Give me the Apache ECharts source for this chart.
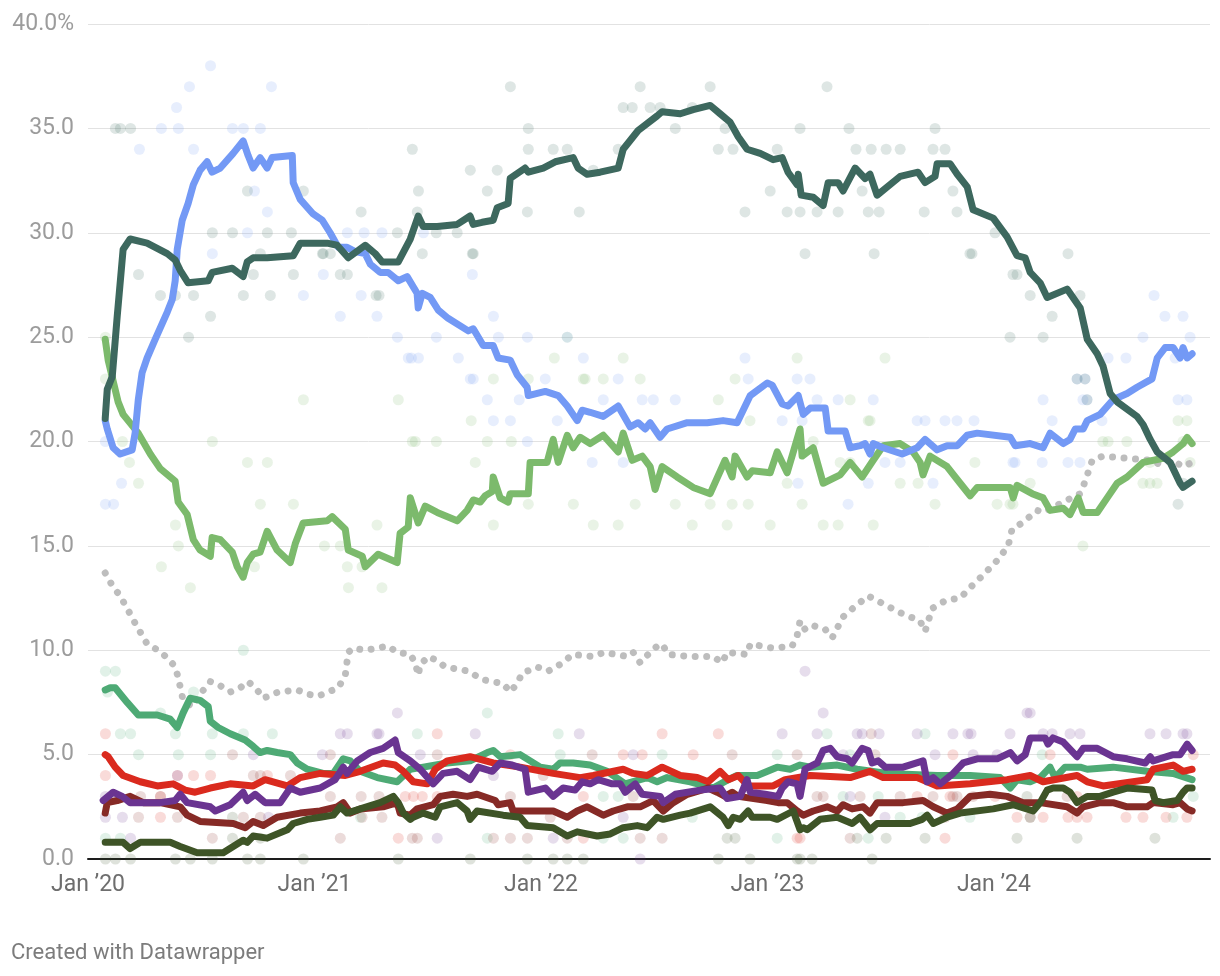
<!DOCTYPE html>
<html>
<head>
<meta charset="utf-8">
<script src="https://cdn.jsdelivr.net/npm/echarts@6/dist/echarts.min.js"></script>
<style>
html,body{margin:0;padding:0;background:#fff;}
#chart{width:1220px;height:976px;}
</style>
</head>
<body>
<div id="chart"></div>
<script>
// ---- tick labels ----
const xTickYears = [2020, 2021, 2022, 2023, 2024];
const yTicks = [0, 5, 10, 15, 20, 25, 30, 35, 40];

// ---- trend lines: [decimal year, percent] ----
const teal = [[2020.076,21.1],[2020.085,22.5],[2020.107,23.1],[2020.129,26.0],[2020.155,29.2],[2020.186,29.7],[2020.261,29.5],[2020.350,29.0],[2020.385,28.7],[2020.407,28.2],[2020.442,27.6],[2020.531,27.7],[2020.548,28.1],[2020.637,28.3],[2020.685,27.9],[2020.703,28.6],[2020.729,28.8],[2020.791,28.8],[2020.906,28.9],[2020.937,29.5],[2021.056,29.5],[2021.100,29.4],[2021.149,28.8],[2021.224,29.4],[2021.268,29.0],[2021.299,28.6],[2021.370,28.6],[2021.423,29.7],[2021.458,30.8],[2021.480,30.3],[2021.542,30.3],[2021.630,30.4],[2021.687,30.8],[2021.701,30.4],[2021.740,30.5],[2021.789,30.6],[2021.807,31.2],[2021.855,31.4],[2021.864,32.6],[2021.930,33.1],[2021.944,32.9],[2022.010,33.1],[2022.063,33.4],[2022.142,33.6],[2022.164,33.1],[2022.204,32.8],[2022.261,32.9],[2022.341,33.1],[2022.363,34.0],[2022.429,34.9],[2022.513,35.6],[2022.535,35.8],[2022.615,35.7],[2022.672,35.9],[2022.747,36.1],[2022.791,35.7],[2022.835,35.3],[2022.871,34.6],[2022.910,34.0],[2022.968,33.8],[2023.025,33.5],[2023.065,33.6],[2023.091,32.9],[2023.131,32.3],[2023.136,32.8],[2023.149,31.8],[2023.202,31.7],[2023.246,31.3],[2023.268,32.4],[2023.312,32.4],[2023.334,32.0],[2023.387,33.1],[2023.431,32.6],[2023.453,32.8],[2023.484,31.8],[2023.586,32.7],[2023.665,32.9],[2023.696,32.4],[2023.740,32.7],[2023.749,33.3],[2023.807,33.3],[2023.838,32.8],[2023.882,32.2],[2023.908,31.1],[2023.997,30.7],[2024.058,29.8],[2024.102,28.9],[2024.138,28.8],[2024.160,28.1],[2024.204,27.6],[2024.235,26.9],[2024.323,27.3],[2024.381,26.4],[2024.412,24.9],[2024.456,24.2],[2024.482,23.6],[2024.513,22.3],[2024.544,21.9],[2024.632,21.2],[2024.659,20.8],[2024.690,20.1],[2024.721,19.5],[2024.778,19.0],[2024.822,18.0],[2024.835,17.8],[2024.875,18.1]];

const blue = [[2020.076,21.0],[2020.085,20.6],[2020.111,19.7],[2020.142,19.4],[2020.195,19.6],[2020.208,20.4],[2020.222,22.0],[2020.239,23.3],[2020.261,24.0],[2020.297,24.9],[2020.350,26.2],[2020.372,26.8],[2020.385,27.7],[2020.394,29.2],[2020.416,30.6],[2020.442,31.4],[2020.465,32.3],[2020.495,33.0],[2020.526,33.4],[2020.548,32.9],[2020.584,33.1],[2020.641,33.8],[2020.685,34.4],[2020.707,33.7],[2020.729,33.1],[2020.760,33.6],[2020.791,33.1],[2020.813,33.6],[2020.902,33.7],[2020.906,32.4],[2020.937,31.6],[2020.994,30.9],[2021.034,30.6],[2021.069,30.0],[2021.105,29.3],[2021.144,29.3],[2021.180,29.1],[2021.224,29.0],[2021.246,28.5],[2021.290,28.1],[2021.325,28.1],[2021.370,27.7],[2021.409,27.9],[2021.453,27.1],[2021.458,26.4],[2021.476,27.1],[2021.511,26.9],[2021.546,26.3],[2021.590,25.9],[2021.679,25.3],[2021.701,25.4],[2021.745,24.6],[2021.789,24.6],[2021.811,24.0],[2021.864,23.9],[2021.895,23.2],[2021.939,22.6],[2021.944,22.2],[2022.019,22.4],[2022.076,22.2],[2022.116,21.7],[2022.160,21.0],[2022.182,21.5],[2022.217,21.4],[2022.275,21.2],[2022.341,21.7],[2022.394,20.7],[2022.429,20.9],[2022.460,20.6],[2022.482,20.9],[2022.526,20.2],[2022.557,20.6],[2022.646,20.9],[2022.734,20.9],[2022.804,21.0],[2022.866,20.9],[2022.924,22.2],[2022.999,22.8],[2023.021,22.7],[2023.065,21.8],[2023.091,21.7],[2023.136,22.2],[2023.158,21.3],[2023.189,21.6],[2023.255,21.6],[2023.268,20.5],[2023.343,20.5],[2023.365,19.7],[2023.409,19.8],[2023.431,19.9],[2023.453,19.4],[2023.467,19.9],[2023.511,19.7],[2023.595,19.4],[2023.661,19.7],[2023.696,20.1],[2023.749,19.6],[2023.793,19.8],[2023.838,19.8],[2023.882,20.3],[2023.926,20.4],[2024.072,20.2],[2024.094,19.8],[2024.160,19.9],[2024.217,19.7],[2024.248,20.4],[2024.306,19.9],[2024.336,20.1],[2024.359,20.6],[2024.394,20.6],[2024.412,21.0],[2024.469,21.3],[2024.526,22.0],[2024.588,22.3],[2024.632,22.6],[2024.698,23.0],[2024.721,24.0],[2024.756,24.5],[2024.791,24.5],[2024.822,24.0],[2024.835,24.5],[2024.853,24.0],[2024.875,24.2]];

const lightGreen = [[2020.076,24.9],[2020.089,23.9],[2020.111,22.9],[2020.133,21.9],[2020.155,21.3],[2020.222,20.4],[2020.275,19.4],[2020.319,18.7],[2020.385,18.1],[2020.398,17.1],[2020.438,16.5],[2020.465,15.3],[2020.495,14.8],[2020.540,14.5],[2020.548,15.4],[2020.584,15.3],[2020.637,14.7],[2020.659,14.0],[2020.685,13.5],[2020.703,14.2],[2020.729,14.6],[2020.760,14.7],[2020.791,15.7],[2020.835,14.8],[2020.893,14.2],[2020.915,15.1],[2020.950,16.1],[2021.056,16.2],[2021.078,16.4],[2021.136,15.8],[2021.149,14.8],[2021.211,14.5],[2021.224,14.0],[2021.281,14.6],[2021.365,14.2],[2021.378,15.6],[2021.414,15.9],[2021.423,17.3],[2021.458,16.1],[2021.489,16.9],[2021.542,16.6],[2021.630,16.2],[2021.674,16.7],[2021.701,17.2],[2021.732,17.1],[2021.754,17.4],[2021.785,17.6],[2021.789,18.3],[2021.820,17.3],[2021.855,17.1],[2021.864,17.5],[2021.944,17.5],[2021.952,19.0],[2022.027,19.0],[2022.054,20.1],[2022.076,19.0],[2022.116,20.3],[2022.142,19.7],[2022.173,20.2],[2022.217,19.9],[2022.275,20.3],[2022.341,19.5],[2022.363,20.4],[2022.403,19.1],[2022.447,19.3],[2022.482,18.8],[2022.504,17.7],[2022.535,18.8],[2022.601,18.3],[2022.672,17.8],[2022.747,17.5],[2022.813,19.1],[2022.844,18.3],[2022.857,19.3],[2022.910,18.3],[2022.933,18.6],[2023.012,18.5],[2023.043,19.5],[2023.087,18.5],[2023.144,20.6],[2023.153,19.3],[2023.202,19.7],[2023.246,18.0],[2023.321,18.4],[2023.365,19.0],[2023.418,18.3],[2023.467,19.1],[2023.511,19.8],[2023.586,19.9],[2023.643,19.5],[2023.674,19.0],[2023.687,18.4],[2023.718,19.3],[2023.793,18.8],[2023.851,18.0],[2023.895,17.4],[2023.926,17.8],[2024.072,17.8],[2024.085,17.3],[2024.102,17.9],[2024.169,17.5],[2024.217,17.3],[2024.248,16.7],[2024.306,16.8],[2024.336,16.5],[2024.372,17.3],[2024.394,16.6],[2024.456,16.6],[2024.500,17.3],[2024.544,18.0],[2024.588,18.3],[2024.659,19.0],[2024.747,19.2],[2024.791,19.5],[2024.835,19.9],[2024.853,20.2],[2024.875,19.9]];

const grayTrend = [[2020.076,13.7],[2020.107,13.1],[2020.142,12.6],[2020.178,11.9],[2020.213,11.2],[2020.261,10.3],[2020.310,10.0],[2020.354,9.6],[2020.385,9.2],[2020.398,8.7],[2020.420,7.6],[2020.460,7.3],[2020.495,7.9],[2020.540,8.5],[2020.584,8.3],[2020.628,8.0],[2020.672,8.2],[2020.707,8.5],[2020.747,8.1],[2020.774,7.7],[2020.840,8.0],[2020.924,8.1],[2020.968,7.9],[2021.016,7.8],[2021.061,8.0],[2021.105,8.2],[2021.136,8.8],[2021.149,9.9],[2021.171,10.1],[2021.224,10.0],[2021.277,10.1],[2021.325,10.2],[2021.365,9.9],[2021.423,9.8],[2021.445,9.4],[2021.458,8.8],[2021.467,9.3],[2021.502,9.7],[2021.542,9.5],[2021.577,9.2],[2021.630,9.1],[2021.679,9.0],[2021.740,8.6],[2021.785,8.5],[2021.833,8.4],[2021.864,8.0],[2021.895,8.4],[2021.917,8.9],[2021.983,9.2],[2022.032,9.0],[2022.063,9.2],[2022.098,9.4],[2022.138,9.8],[2022.231,9.7],[2022.279,9.9],[2022.381,9.7],[2022.407,9.9],[2022.438,9.4],[2022.473,9.8],[2022.513,10.2],[2022.535,10.3],[2022.562,9.8],[2022.659,9.7],[2022.760,9.7],[2022.800,9.4],[2022.822,9.9],[2022.910,9.8],[2022.924,10.3],[2023.025,10.1],[2023.109,10.2],[2023.131,10.7],[2023.144,11.4],[2023.166,11.0],[2023.197,11.2],[2023.255,11.0],[2023.286,10.6],[2023.334,11.6],[2023.387,12.1],[2023.445,12.6],[2023.498,12.3],[2023.586,11.8],[2023.674,11.4],[2023.696,10.9],[2023.727,12.0],[2023.789,12.4],[2023.851,12.5],[2023.895,13.0],[2023.952,13.6],[2024.014,14.3],[2024.063,15.0],[2024.080,15.8],[2024.125,16.1],[2024.191,16.7],[2024.217,16.6],[2024.306,17.1],[2024.381,17.5],[2024.403,18.1],[2024.434,19.1],[2024.482,19.3],[2024.588,19.2],[2024.690,19.1],[2024.734,18.9],[2024.786,19.1],[2024.835,18.8],[2024.875,19.0]];

const midGreen = [[2020.076,8.1],[2020.098,8.2],[2020.120,8.2],[2020.173,7.5],[2020.222,6.9],[2020.306,6.9],[2020.363,6.7],[2020.394,6.3],[2020.420,7.0],[2020.451,7.7],[2020.495,7.6],[2020.531,7.3],[2020.540,6.6],[2020.575,6.3],[2020.628,6.0],[2020.694,5.7],[2020.729,5.4],[2020.760,5.1],[2020.791,5.2],[2020.835,5.1],[2020.893,5.0],[2020.924,4.6],[2020.968,4.3],[2021.038,4.1],[2021.083,4.1],[2021.127,4.8],[2021.158,4.7],[2021.202,4.2],[2021.277,3.9],[2021.365,3.7],[2021.423,4.3],[2021.480,4.4],[2021.586,4.6],[2021.687,4.7],[2021.763,5.1],[2021.789,5.2],[2021.820,4.9],[2021.908,5.0],[2021.997,4.4],[2022.054,4.3],[2022.085,4.6],[2022.142,4.6],[2022.217,4.5],[2022.292,4.2],[2022.372,3.6],[2022.469,3.9],[2022.513,3.7],[2022.557,3.9],[2022.659,3.7],[2022.760,3.4],[2022.827,3.8],[2022.866,4.0],[2022.955,4.0],[2023.043,4.4],[2023.100,4.3],[2023.144,4.5],[2023.189,4.4],[2023.308,4.5],[2023.396,4.3],[2023.529,4.1],[2023.749,4.0],[2023.895,4.0],[2024.027,3.9],[2024.072,3.4],[2024.102,3.8],[2024.160,3.7],[2024.204,3.9],[2024.248,4.4],[2024.270,3.9],[2024.314,4.4],[2024.381,4.4],[2024.412,4.3],[2024.526,4.4],[2024.676,4.2],[2024.791,4.1],[2024.875,3.8]];

const red = [[2020.076,5.0],[2020.089,4.9],[2020.120,4.4],[2020.155,4.0],[2020.231,3.7],[2020.306,3.5],[2020.376,3.6],[2020.429,3.3],[2020.473,3.2],[2020.540,3.4],[2020.628,3.6],[2020.729,3.5],[2020.782,3.8],[2020.880,3.5],[2020.937,3.9],[2021.025,4.1],[2021.136,4.0],[2021.202,4.2],[2021.303,4.6],[2021.356,4.5],[2021.392,4.2],[2021.436,3.7],[2021.498,3.6],[2021.533,4.3],[2021.586,4.7],[2021.687,4.9],[2021.789,4.6],[2021.908,4.4],[2022.054,4.1],[2022.173,3.9],[2022.231,4.0],[2022.363,4.3],[2022.407,4.1],[2022.469,4.0],[2022.535,4.4],[2022.615,4.0],[2022.690,3.9],[2022.738,3.7],[2022.791,4.2],[2022.827,3.8],[2022.871,4.0],[2022.915,3.5],[2023.025,3.5],[2023.078,3.8],[2023.189,4.0],[2023.365,3.9],[2023.453,4.2],[2023.511,3.9],[2023.661,3.9],[2023.749,3.5],[2023.895,3.6],[2024.058,3.8],[2024.160,4.0],[2024.217,3.7],[2024.367,4.0],[2024.412,3.7],[2024.482,3.5],[2024.676,3.8],[2024.703,4.3],[2024.791,4.5],[2024.835,4.2],[2024.875,4.3]];

const purple = [[2020.067,2.8],[2020.111,3.2],[2020.151,3.0],[2020.186,2.7],[2020.261,2.7],[2020.319,2.7],[2020.385,2.8],[2020.407,3.1],[2020.438,2.7],[2020.540,2.5],[2020.562,2.3],[2020.628,2.6],[2020.685,3.2],[2020.703,2.8],[2020.738,3.1],[2020.782,2.7],[2020.849,2.7],[2020.893,3.4],[2020.937,3.2],[2021.025,3.4],[2021.091,3.8],[2021.127,4.4],[2021.144,4.1],[2021.189,4.7],[2021.246,5.1],[2021.303,5.3],[2021.356,5.7],[2021.370,5.1],[2021.423,4.7],[2021.467,4.3],[2021.524,3.6],[2021.568,4.1],[2021.630,4.2],[2021.687,3.8],[2021.723,4.4],[2021.785,4.2],[2021.820,4.6],[2021.873,4.5],[2021.930,4.3],[2021.944,3.2],[2022.019,3.4],[2022.054,3.0],[2022.098,3.4],[2022.151,3.3],[2022.182,3.7],[2022.217,3.6],[2022.253,3.8],[2022.314,3.6],[2022.350,3.6],[2022.372,3.2],[2022.416,3.6],[2022.447,3.1],[2022.526,3.0],[2022.540,2.7],[2022.593,3.1],[2022.703,3.3],[2022.791,3.4],[2022.822,2.9],[2022.880,3.0],[2022.910,3.8],[2022.924,3.2],[2022.990,3.1],[2023.047,3.0],[2023.065,3.4],[2023.091,3.7],[2023.131,3.6],[2023.144,3.0],[2023.166,4.3],[2023.220,4.6],[2023.246,5.2],[2023.277,5.3],[2023.308,4.9],[2023.352,4.8],[2023.374,4.6],[2023.418,5.3],[2023.445,5.2],[2023.462,4.6],[2023.489,4.7],[2023.520,4.4],[2023.599,4.4],[2023.687,4.7],[2023.705,3.7],[2023.732,3.9],[2023.763,3.6],[2023.820,4.1],[2023.864,4.6],[2023.926,4.8],[2024.014,4.8],[2024.072,5.1],[2024.102,4.7],[2024.138,5.0],[2024.160,5.8],[2024.226,5.8],[2024.239,5.5],[2024.261,5.8],[2024.306,5.6],[2024.367,4.9],[2024.394,5.3],[2024.456,5.3],[2024.526,4.9],[2024.588,4.8],[2024.668,4.6],[2024.690,4.9],[2024.703,4.7],[2024.791,5.0],[2024.822,5.0],[2024.853,5.5],[2024.875,5.2]];

const darkRed = [[2020.076,2.2],[2020.085,2.7],[2020.129,2.8],[2020.186,3.0],[2020.244,2.7],[2020.319,2.7],[2020.407,2.5],[2020.438,2.1],[2020.495,1.8],[2020.641,1.7],[2020.694,1.5],[2020.729,1.8],[2020.774,1.6],[2020.835,2.0],[2020.937,2.2],[2021.025,2.3],[2021.100,2.5],[2021.127,2.7],[2021.158,2.2],[2021.202,2.4],[2021.303,2.5],[2021.365,2.7],[2021.378,2.2],[2021.423,2.1],[2021.453,2.4],[2021.524,2.6],[2021.555,3.0],[2021.612,3.1],[2021.674,3.0],[2021.718,3.1],[2021.798,2.8],[2021.811,2.6],[2021.864,2.7],[2021.877,2.3],[2021.997,2.3],[2022.054,2.3],[2022.116,2.0],[2022.160,2.3],[2022.204,2.5],[2022.275,2.1],[2022.319,2.3],[2022.381,2.5],[2022.438,2.5],[2022.495,2.8],[2022.540,2.3],[2022.584,2.7],[2022.646,3.1],[2022.738,3.4],[2022.778,3.2],[2022.813,3.0],[2022.844,3.2],[2022.871,3.0],[2022.999,2.8],[2023.047,2.7],[2023.087,2.7],[2023.131,2.3],[2023.158,2.1],[2023.202,2.3],[2023.264,2.5],[2023.308,2.3],[2023.334,2.6],[2023.374,2.4],[2023.423,2.5],[2023.453,2.2],[2023.484,2.7],[2023.599,2.7],[2023.687,2.8],[2023.732,2.5],[2023.793,2.2],[2023.838,2.4],[2023.895,3.0],[2023.983,3.1],[2024.058,3.0],[2024.129,2.7],[2024.204,2.7],[2024.323,2.5],[2024.367,2.2],[2024.394,2.5],[2024.469,2.7],[2024.526,2.7],[2024.588,2.5],[2024.676,2.5],[2024.703,2.7],[2024.791,2.6],[2024.822,2.7],[2024.853,2.4],[2024.875,2.3]];

const olive = [[2020.076,0.8],[2020.111,0.8],[2020.155,0.8],[2020.186,0.5],[2020.231,0.8],[2020.363,0.8],[2020.407,0.6],[2020.482,0.3],[2020.540,0.3],[2020.597,0.3],[2020.641,0.6],[2020.685,0.9],[2020.703,0.8],[2020.729,1.1],[2020.791,1.0],[2020.880,1.4],[2020.906,1.7],[2020.968,1.9],[2021.025,2.0],[2021.083,2.1],[2021.114,2.5],[2021.144,2.2],[2021.202,2.4],[2021.290,2.7],[2021.348,3.0],[2021.370,2.7],[2021.392,2.2],[2021.423,1.9],[2021.436,2.0],[2021.480,2.2],[2021.533,2.0],[2021.555,2.5],[2021.630,2.7],[2021.674,2.3],[2021.687,1.9],[2021.718,2.3],[2021.833,2.1],[2021.908,2.0],[2021.939,1.6],[2022.054,1.5],[2022.116,1.1],[2022.160,1.3],[2022.248,1.1],[2022.306,1.2],[2022.363,1.5],[2022.425,1.6],[2022.469,1.5],[2022.513,2.0],[2022.540,1.9],[2022.615,2.1],[2022.659,2.2],[2022.747,2.5],[2022.804,2.0],[2022.827,1.6],[2022.849,2.0],[2022.880,1.9],[2022.915,2.3],[2022.933,2.0],[2023.012,2.0],[2023.043,1.9],[2023.114,2.3],[2023.144,1.4],[2023.158,1.5],[2023.175,1.4],[2023.233,1.9],[2023.308,2.0],[2023.374,1.7],[2023.409,2.0],[2023.453,1.4],[2023.484,1.7],[2023.630,1.7],[2023.683,1.9],[2023.705,2.1],[2023.732,1.7],[2023.793,2.0],[2023.851,2.2],[2023.997,2.4],[2024.085,2.6],[2024.173,2.3],[2024.204,2.7],[2024.235,3.3],[2024.261,3.4],[2024.306,3.4],[2024.336,3.2],[2024.367,2.7],[2024.412,3.0],[2024.469,3.0],[2024.526,3.2],[2024.588,3.4],[2024.698,3.3],[2024.712,2.8],[2024.747,2.7],[2024.809,2.8],[2024.835,3.2],[2024.853,3.4],[2024.875,3.4]];

// ---- individual polls: [percent, [decimal years]] ----
const pollsTeal = [[37,[2021.865,2022.438,2022.747,2023.263]],[36,[2022.363,2022.403,2022.482,2022.526,2022.668]],[35,[2020.121,2020.143,2020.188,2021.944,2022.593,2022.813,2023.144,2023.360,2023.740]],[34,[2021.432,2021.944,2022.054,2022.116,2022.341,2022.783,2022.848,2023.043,2023.391,2023.458,2023.524,2023.586,2023.731,2023.784]],[33,[2021.688,2021.807,2022.231]],[32,[2020.704,2020.951,2021.459,2021.763,2023.012,2023.418,2023.819]],[31,[2021.206,2021.454,2021.940,2022.169,2022.901,2023.087,2023.144,2023.219,2023.312,2023.445,2023.493,2023.692,2023.837]],[30,[2020.549,2020.638,2020.792,2020.898,2021.366,2021.538,2021.630,2024.005]],[29,[2020.761,2021.035,2021.039,2021.070,2021.476,2021.697,2021.701,2023.166,2023.471,2023.894,2023.903,2024.327]],[28,[2020.223,2020.730,2020.907,2021.114,2021.145,2024.084,2024.102]],[27,[2020.320,2020.386,2020.466,2020.686,2020.805,2021.272,2021.285,2024.160,2024.380]],[26,[2020.541,2024.257]],[25,[2020.444,2024.071,2024.217]],[23,[2024.367,2024.402]],[22,[2024.411]],[18,[2024.835]],[17,[2024.813]]];

const pollsBlue = [[38,[2020.541]],[37,[2020.448,2020.810]],[36,[2020.391]],[35,[2020.324,2020.399,2020.638,2020.686,2020.761]],[34,[2020.227,2020.466]],[32,[2020.735]],[31,[2020.792]],[30,[2020.704,2021.145,2021.219,2021.298,2021.481]],[29,[2020.549]],[28,[2021.039,2021.697]],[27,[2020.951,2021.206,2024.707]],[26,[2021.114,2021.276,2021.790,2024.755,2024.835]],[25,[2021.366,2021.538,2021.812,2021.940,2022.116,2024.658,2024.866]],[24,[2021.414,2021.428,2021.459,2021.635,2022.187,2022.901,2024.504,2024.583,2024.800]],[23,[2021.688,2021.701,2022.019,2022.341,2022.915,2023.131,2023.188,2024.367,2024.402]],[22,[2021.763,2021.904,2022.275,2022.447,2022.496,2022.593,2023.219,2023.312,2023.467,2024.217,2024.393,2024.411,2024.813,2024.852]],[21,[2021.790,2021.865,2022.072,2023.065,2023.153,2023.661,2023.696,2023.784,2023.837,2023.912,2024.257,2024.477]],[20,[2020.077,2021.940]],[19,[2022.226,2022.363,2023.519,2023.586,2024.084,2024.093,2024.213,2024.327,2024.380]],[18,[2020.148,2023.135,2023.445,2023.731]],[17,[2020.077,2020.113,2023.356]]];

const pollsLightGreen = [[25,[2020.077,2022.116]],[24,[2022.059,2022.363,2023.131,2023.519]],[23,[2020.077,2021.790,2021.944,2022.187,2022.195,2022.275,2022.438,2022.857]],[22,[2020.951,2021.370,2022.783,2023.365]],[21,[2021.692,2022.923,2023.445,2023.453,2024.813,2024.852]],[20,[2020.152,2020.549,2021.432,2021.445,2021.538,2021.763,2021.869,2023.202,2024.481,2024.504,2024.587,2024.835]],[19,[2020.183,2020.704,2020.792,2021.710,2023.321,2023.365,2023.916,2024.689,2024.866]],[18,[2020.223,2023.087,2023.586,2023.665,2024.160,2024.658,2024.689,2024.720]],[17,[2020.761,2020.907,2021.944,2022.143,2022.416,2022.593,2022.747,2022.844,2022.915,2023.153,2023.740,2024.014,2024.071,2024.084]],[16,[2020.386,2021.276,2021.790,2022.231,2022.341,2022.668,2022.822,2023.012,2023.246,2023.312,2023.467]],[15,[2020.399,2021.044,2021.114,2024.393]],[14,[2020.324,2020.735,2021.145,2021.210]],[13,[2020.452,2021.150,2021.298]]];

const pollsMidGreen = [[10,[2020.686]],[9,[2020.077,2020.121]],[8,[2020.086,2020.466]],[7,[2020.320,2021.763]],[6,[2020.143,2020.188,2020.386,2020.549,2020.686,2020.814,2021.454,2022.076,2023.263,2023.696]],[5,[2020.223,2020.399,2020.541,2022.085,2022.535,2023.043,2023.365,2024.213]],[3,[2022.275,2022.341,2023.334,2023.489,2024.880]],[2,[2021.203,2022.668,2023.586,2023.683,2023.894,2024.791]],[1,[2020.077,2020.143,2021.763,2022.275,2022.363,2023.043,2023.445]]];

const pollsRed = [[6,[2020.077,2021.542,2022.535,2022.783]],[5,[2021.865,2022.363,2022.447,2022.672,2023.819,2024.248,2024.880]],[4,[2020.077,2020.395,2020.466,2020.541,2020.792]],[3,[2020.320,2021.401,2021.437,2021.476,2021.542,2022.187,2023.661,2023.806,2024.005,2024.367]],[2,[2020.320,2024.102,2024.217,2024.327,2024.367,2024.411,2024.583,2024.658,2024.760,2024.852]],[1,[2021.370,2022.187,2023.131,2023.144,2023.784]]];

const pollsPurple = [[9,[2023.166]],[7,[2021.366,2023.246,2024.146,2024.160]],[6,[2021.114,2021.145,2021.276,2021.285,2021.710,2022.169,2023.065,2023.219,2023.396,2023.418,2023.493,2023.661,2023.819,2023.885,2023.899,2024.071,2024.217,2024.257,2024.336,2024.380,2024.689,2024.760,2024.835,2024.852]],[5,[2020.730,2021.035,2021.467,2022.407,2023.334,2023.740,2023.908,2024.014]],[4,[2020.395,2021.790]],[3,[2020.077,2020.121,2023.365]],[2,[2020.077,2020.152,2020.797,2022.363,2023.519]],[1,[2020.188,2021.542,2022.054]],[0,[2022.438]]];

const pollsDarkRed = [[6,[2023.458]],[5,[2020.638,2021.070,2021.542,2022.226,2022.844,2023.131,2023.475]],[4,[2020.730,2020.761,2020.894,2022.010]],[3,[2020.232,2020.320,2021.070,2021.206,2021.285,2021.865,2022.407,2023.219,2023.246,2023.409,2023.586,2023.731,2023.819,2023.837,2023.908,2024.323]],[2,[2020.223,2020.395,2020.686,2020.761,2021.210,2021.298,2022.041,2023.784,2024.160]],[1,[2020.549,2021.114,2021.432,2021.454,2021.790,2021.865,2021.940,2022.116,2022.438,2022.535,2023.365]]];

const pollsOlive = [[3,[2024.146]],[2,[2020.638,2024.160]],[1,[2020.638,2020.761,2022.822,2022.857,2023.396,2023.524,2023.696,2024.102,2024.367,2024.711]],[0,[2020.077,2020.121,2020.188,2020.386,2020.452,2020.549,2020.704,2020.761,2020.951,2021.370,2021.688,2021.940,2022.054,2022.116,2022.187,2022.783,2022.923,2023.131,2023.144,2023.197,2023.462]]];

// ---- chart ----
const toPoints = polls => polls.flatMap(([v, ys]) => ys.map(y => [y, v]));

const parties = [
  { line: grayTrend, polls: [], color: '#bdbdbd', dotted: true },
  { line: midGreen, polls: pollsMidGreen, color: '#4eaa75' },
  { line: red, polls: pollsRed, color: '#da2a1e' },
  { line: darkRed, polls: pollsDarkRed, color: '#862a26' },
  { line: olive, polls: pollsOlive, color: '#3e5427' },
  { line: purple, polls: pollsPurple, color: '#6a3491' },
  { line: lightGreen, polls: pollsLightGreen, color: '#7cba6c' },
  { line: blue, polls: pollsBlue, color: '#7399f5' },
  { line: teal, polls: pollsTeal, color: '#3d685e' }
];

const series = [];
parties.forEach(p => {
  if (p.polls.length) {
    series.push({
      type: 'scatter', data: toPoints(p.polls), symbolSize: 11, clip: false, silent: true,
      itemStyle: { color: p.color, opacity: 0.17 }, z: 1
    });
  }
});
parties.forEach((p, i) => {
  series.push({
    type: 'line', data: p.line, showSymbol: false, clip: false, silent: true, z: 2 + i,
    lineStyle: p.dotted
      ? { color: p.color, width: 7, type: [0.01, 11.5], cap: 'round', join: 'round' }
      : { color: p.color, width: 7, cap: 'round', join: 'round' }
  });
});

const chart = echarts.init(document.getElementById('chart'), null, { renderer: 'canvas' });
chart.setOption({
  animation: false,
  backgroundColor: '#ffffff',
  textStyle: { fontFamily: 'Roboto' },
  grid: { left: 88, right: 10, top: 24, bottom: 117, outerBoundsMode: 'none' },
  xAxis: {
    type: 'value', min: 2020, max: 2024.954,
    splitLine: { show: false },
    axisTick: { show: false },
    axisLine: { show: true, onZero: false, lineStyle: { color: '#1d1d1d', width: 2 } },
    axisLabel: {
      customValues: xTickYears,
      formatter: v => 'Jan \u2019' + String(Math.round(v)).slice(2),
      color: '#6e6e6e', fontSize: 23, fontFamily: 'Roboto', margin: 15
    }
  },
  yAxis: {
    type: 'value', min: 0, max: 40, interval: 5,
    axisLine: { show: false }, axisTick: { show: false },
    splitLine: { show: true, lineStyle: { color: '#e2e2e2', width: 1 } },
    axisLabel: {
      customValues: yTicks,
      formatter: v => v === 40 ? '40.0%' : v.toFixed(1),
      color: '#9c9c9c', fontSize: 23, fontFamily: 'Roboto', margin: 14
    }
  },
  graphic: [{
    type: 'text', left: 11, top: 942,
    style: { text: 'Created with Datawrapper', fill: '#7c7c7c', font: '22px Roboto' }
  }],
  series
});
</script>
</body>
</html>
